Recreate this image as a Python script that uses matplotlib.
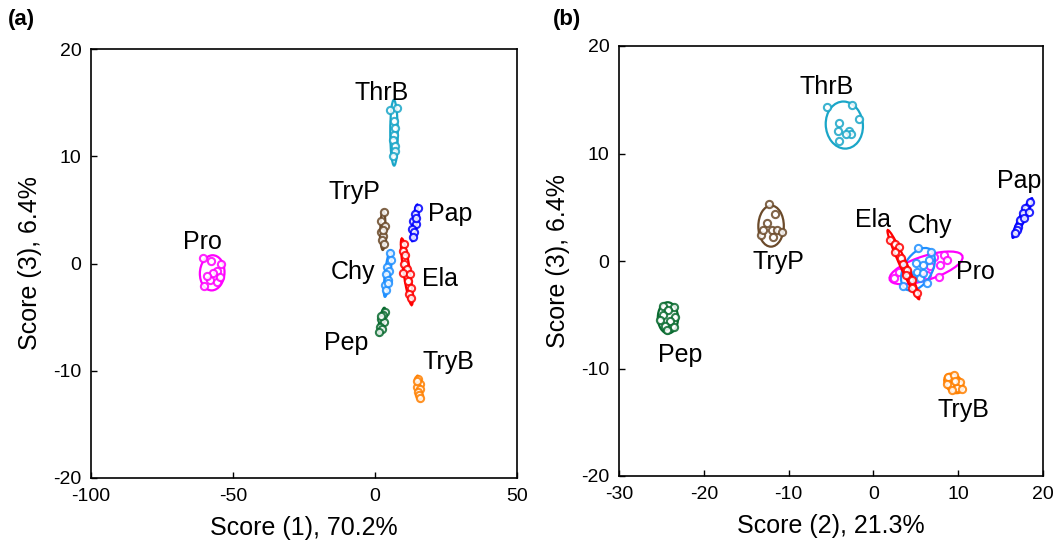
import numpy as np
import matplotlib
matplotlib.use("Agg")
import matplotlib.pyplot as plt
from matplotlib.patches import Ellipse
import matplotlib.transforms as transforms

plt.rcParams['font.family'] = ['Liberation Sans', 'DejaVu Sans']
plt.rcParams['axes.unicode_minus'] = False

# ---------------- data: panel (a) Score(1) vs Score(3) ----------------
groups = ["Pro", "ThrB", "TryP", "Pap", "Chy", "Ela", "Pep", "TryB"]
colors = {"Pro": "#FF00FF", "ThrB": "#1AA6C8", "TryP": "#6B4A2A", "Pap": "#0000FF",
          "Chy": "#1E8FFF", "Ela": "#FF0000", "Pep": "#0A6B30", "TryB": "#FF8000"}

a_x = {
    "Pro":  [-60.6, -57.6, -54.1, -55.6, -58.2, -60.3, -55.8, -54.7, -57.1, -59.3],
    "ThrB": [5.3, 7.8, 6.6, 7.2, 6.7, 6.2, 6.9, 7.0, 6.5],
    "TryP": [3.2, 2.2, 3.5, 2.2, 2.9, 2.5, 3.2, 2.7],
    "Pap":  [15.0, 14.2, 13.5, 14.5, 13.2, 13.9, 13.5, 14.3],
    "Chy":  [5.2, 5.7, 4.2, 4.9, 3.7, 4.5, 3.5, 3.9, 4.7],
    "Ela":  [10.2, 9.7, 10.7, 10.2, 11.2, 9.9, 12.2, 11.7, 12.5, 12.0, 12.7],
    "Pep":  [3.5, 2.7, 2.2, 3.0, 1.7, 2.5, 1.5, 2.2],
    "TryB": [15.2, 15.7, 14.9, 15.9, 15.2, 15.5, 14.7, 15.7],
}
a_y = {
    "Pro":  [0.5, 0.2, 0.0, -0.7, -1.5, -2.1, -1.7, -1.3, -0.9, -1.2],
    "ThrB": [14.3, 14.5, 13.3, 12.6, 12.0, 11.5, 11.0, 10.5, 10.0],
    "TryP": [4.8, 4.0, 3.5, 2.9, 2.6, 2.2, 1.8, 3.1],
    "Pap":  [5.2, 4.6, 4.0, 3.7, 3.2, 2.9, 2.5, 4.2],
    "Chy":  [1.0, 0.3, -0.3, -0.7, -1.0, -1.5, -2.0, -2.5, -1.8],
    "Ela":  [1.8, 1.2, 0.8, 0.0, -0.5, -0.9, -1.0, -1.6, -2.3, -2.8, -3.2],
    "Pep":  [-4.5, -4.8, -5.2, -5.5, -5.9, -6.1, -6.4, -4.9],
    "TryB": [-10.8, -11.2, -11.5, -11.7, -12.0, -12.3, -11.0, -12.5],
}
a_label_pos = {"ThrB": (2.5, 15.9), "TryP": (-7.4, 6.7), "Pap": (26.4, 4.6), "Pro": (-60.6, 2.0),
               "Chy": (-7.7, -0.8), "Ela": (22.9, -1.4), "Pep": (-10.2, -7.4), "TryB": (25.7, -9.2)}

# ---------------- data: panel (b) Score(2) vs Score(3) ----------------
b_x = {
    "ThrB": [-5.5, -2.5, -1.65, -4.1, -4.2, -2.9, -2.7, -3.2, -4.1],
    "TryP": [-12.3, -11.6, -12.5, -11.9, -11.4, -10.8, -13.3, -11.8, -13.0],
    "Pep":  [-24.8, -23.5, -24.2, -24.8, -23.4, -24.0, -24.6, -23.5, -24.3, -25.2],
    "Pap":  [18.5, 17.9, 17.6, 18.3, 17.3, 17.1, 16.9, 16.7, 17.8],
    "TryB": [8.8, 9.5, 10.2, 9.0, 9.8, 10.4, 8.7, 9.3, 9.6],
    "Pro":  [2.4, 3.0, 6.7, 7.1, 8.3, 7.9, 7.7, 6.3, 8.7, 4.0],
    "Chy":  [5.3, 6.5, 5.9, 5.2, 5.5, 4.6, 4.1, 5.0, 5.9, 3.5, 6.8, 3.7, 6.3],
    "Ela":  [2.0, 2.6, 3.0, 2.5, 3.2, 3.5, 4.0, 3.8, 4.5, 4.6, 5.2],
}
b_y = {
    "ThrB": [14.3, 14.5, 13.2, 12.8, 12.1, 12.1, 11.8, 11.8, 11.2],
    "TryP": [5.3, 4.4, 3.5, 2.9, 2.9, 2.7, 2.4, 2.2, 2.9],
    "Pep":  [-4.2, -4.3, -4.6, -5.0, -5.2, -5.6, -6.0, -6.1, -6.4, -5.5],
    "Pap":  [5.5, 4.9, 4.5, 4.6, 3.8, 3.2, 2.9, 2.6, 4.0],
    "TryB": [-10.8, -10.6, -11.3, -11.5, -11.8, -11.9, -11.4, -12.0, -11.2],
    "Pro":  [-1.6, -1.0, -0.5, 0.4, 0.6, -0.4, -1.5, -1.3, 0.1, -1.2],
    "Chy":  [1.2, 0.1, -0.4, -1.0, -1.6, -1.6, -1.1, -0.2, -1.1, -2.3, 0.8, -0.8, -2.0],
    "Ela":  [2.0, 1.6, 1.3, 0.8, 0.3, -0.3, -0.8, -1.3, -1.8, -2.5, -3.0],
}
b_label_pos = {"ThrB": (-5.5, 16.2), "TryP": (-11.2, -0.1), "Ela": (-0.1, 3.8), "Chy": (6.7, 3.3),
               "Pro": (12.0, -1.0), "Pap": (17.2, 7.4), "Pep": (-22.8, -8.7), "TryB": (10.6, -13.9)}

a_xticks = [-100, -50, 0, 50]
b_xticks = [-30, -20, -10, 0, 10, 20]
yticks = [-20, -10, 0, 10, 20]


def conf_ellipse(ax, x, y, color, n_std=1.9):
    x = np.asarray(x); y = np.asarray(y)
    cov = np.cov(x, y)
    pear = cov[0, 1] / np.sqrt(cov[0, 0] * cov[1, 1])
    rx = np.sqrt(1 + pear); ry = np.sqrt(1 - pear)
    ell = Ellipse((0, 0), width=rx * 2, height=ry * 2, facecolor='none',
                  edgecolor=color, linewidth=1.6)
    sx = np.sqrt(cov[0, 0]) * n_std; sy = np.sqrt(cov[1, 1]) * n_std
    tr = transforms.Affine2D().rotate_deg(45).scale(sx, sy).translate(x.mean(), y.mean())
    ell.set_transform(tr + ax.transData)
    ax.add_patch(ell)
    return ell


fig = plt.figure(figsize=(10.64, 5.52), dpi=100)
ax1 = fig.add_axes([91 / 1064, 1 - 478 / 552, 426 / 1064, 429 / 552])
ax2 = fig.add_axes([619 / 1064, 1 - 476 / 552, 424 / 1064, 430 / 552])


def draw(ax, xs, ys, labpos):
    for i, g in enumerate(xs):
        c = colors[g]
        e = conf_ellipse(ax, xs[g], ys[g], c)
        e.set_zorder(2 + 2 * i)
        ax.plot(xs[g], ys[g], 'o', ms=5.2, mfc='white', mec=c, mew=1.5, alpha=0.85,
                zorder=3 + 2 * i)
        lx, ly = labpos[g]
        ax.text(lx, ly, g, fontsize=18, ha='center', va='center', color='black', zorder=40)
    ax.tick_params(direction='in', length=4, labelsize=14, width=1, pad=7)
    for s in ax.spines.values():
        s.set_linewidth(1.2)
        s.set_zorder(50)


draw(ax1, a_x, a_y, a_label_pos)
ax1.set_xlim(-100, 50); ax1.set_ylim(-20, 20)
ax1.set_xticks(a_xticks); ax1.set_yticks(yticks)
ax1.set_xlabel("Score (1), 70.2%", fontsize=18, labelpad=8)
ax1.set_ylabel("Score (3), 6.4%", fontsize=18, labelpad=8)

draw(ax2, b_x, b_y, b_label_pos)
ax2.set_xlim(-30, 20); ax2.set_ylim(-20, 20)
ax2.set_xticks(b_xticks); ax2.set_yticks(yticks)
ax2.set_xlabel("Score (2), 21.3%", fontsize=18, labelpad=8)
ax2.set_ylabel("Score (3), 6.4%", fontsize=18, labelpad=8)

fig.text(8 / 1064, 1 - 20 / 552, "(a)", fontsize=16, fontweight='bold', va='center', ha='left')
fig.text(553 / 1064, 1 - 20 / 552, "(b)", fontsize=16, fontweight='bold', va='center', ha='left')

fig.savefig("out.png", dpi=100)
